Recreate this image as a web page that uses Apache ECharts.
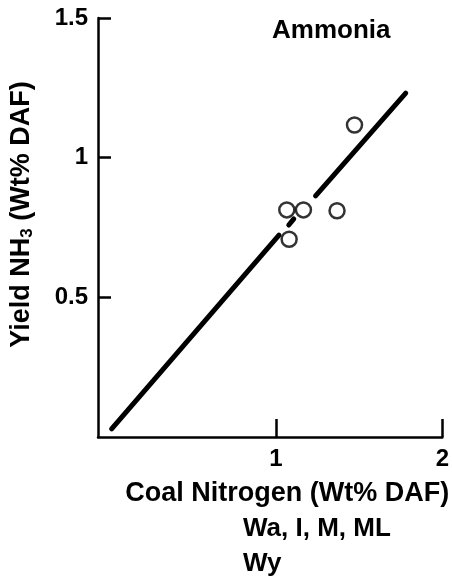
<!DOCTYPE html>
<html>
<head>
<meta charset="utf-8">
<script src="https://cdn.jsdelivr.net/npm/echarts@6/dist/echarts.min.js"></script>
<style>
  html, body { margin: 0; padding: 0; background: #fff; }
  #main { width: 452px; height: 576px; }
</style>
</head>
<body>
<div id="main"></div>
<script>
// measured points: coal N (x) vs NH3 yield (y)
var coalN = [1.065, 1.165, 1.367, 1.079, 1.472];
var yieldNH3 = [0.813, 0.813, 0.810, 0.708, 1.117];

// fitted line, drawn in pieces (broken around the circles)
var fitSeg1 = [[0.012, 0.029], [1.018, 0.723]];
var fitDash = [[1.077, 0.759], [1.107, 0.781]];
var fitSeg2 = [[1.238, 0.863], [1.78, 1.231]];

var xTicks = [1, 2];
var yTicks = [0.5, 1, 1.5];

var font = 'Liberation Sans';
var chart = echarts.init(document.getElementById('main'));

var points = coalN.map(function (x, i) { return [x, yieldNH3[i]]; });

function fitSeries(seg) {
  return {
    type: 'line',
    data: seg,
    symbol: 'none',
    silent: true,
    lineStyle: { color: '#000', width: 5, cap: 'round' },
    z: 2
  };
}

chart.setOption({
  animation: false,
  backgroundColor: '#fff',
  grid: { left: 95, right: 9, top: 18, bottom: 139 },
  xAxis: {
    type: 'value',
    min: -0.07,
    max: 2,
    name: 'Coal Nitrogen (Wt% DAF)',
    nameLocation: 'middle',
    nameGap: 43,
    nameTextStyle: { fontFamily: font, fontWeight: 'bold', fontSize: 27, color: '#000', padding: [0, 0, 0, 34] },
    axisLine: { onZero: false, lineStyle: { color: '#000', width: 2.5 } },
    axisTick: { inside: true, length: 18, customValues: xTicks, lineStyle: { color: '#000', width: 2.5 } },
    axisLabel: { customValues: xTicks, margin: 10, fontFamily: font, fontWeight: 'bold', fontSize: 24, color: '#000' },
    splitLine: { show: false }
  },
  yAxis: {
    type: 'value',
    min: 0,
    max: 1.5,
    interval: 0.5,
    name: 'Yield NH{sub|3} (Wt% DAF)',
    nameLocation: 'middle',
    nameGap: 62,
    nameRotate: 90,
    nameTextStyle: {
      fontFamily: font, fontWeight: 'bold', fontSize: 27, color: '#000',
      padding: [0, 0, 0, 26],
      rich: { sub: { fontFamily: font, fontWeight: 'bold', fontSize: 17, color: '#000', padding: [12, 0, 0, 0] } }
    },
    axisLine: { onZero: false, lineStyle: { color: '#000', width: 2.5 } },
    axisTick: { inside: true, length: 13, customValues: yTicks, lineStyle: { color: '#000', width: 2.5 } },
    axisLabel: { customValues: yTicks, margin: 10, fontFamily: font, fontWeight: 'bold', fontSize: 24, color: '#000' },
    splitLine: { show: false }
  },
  graphic: [
    { type: 'text', left: 272, top: 18, style: { text: 'Ammonia', font: 'bold 26px "Liberation Sans"', fill: '#000' } },
    { type: 'text', left: 243, top: 516, style: { text: 'Wa, I, M, ML', font: 'bold 26px "Liberation Sans"', fill: '#000' } },
    { type: 'text', left: 243, top: 551, style: { text: 'Wy', font: 'bold 26px "Liberation Sans"', fill: '#000' } }
  ],
  series: [
    fitSeries(fitSeg1),
    fitSeries(fitDash),
    fitSeries(fitSeg2),
    {
      type: 'scatter',
      data: points,
      symbol: 'circle',
      symbolSize: 15,
      itemStyle: { color: '#fff', borderColor: '#000', borderWidth: 2.5 },
      z: 3
    }
  ]
});
</script>
</body>
</html>
